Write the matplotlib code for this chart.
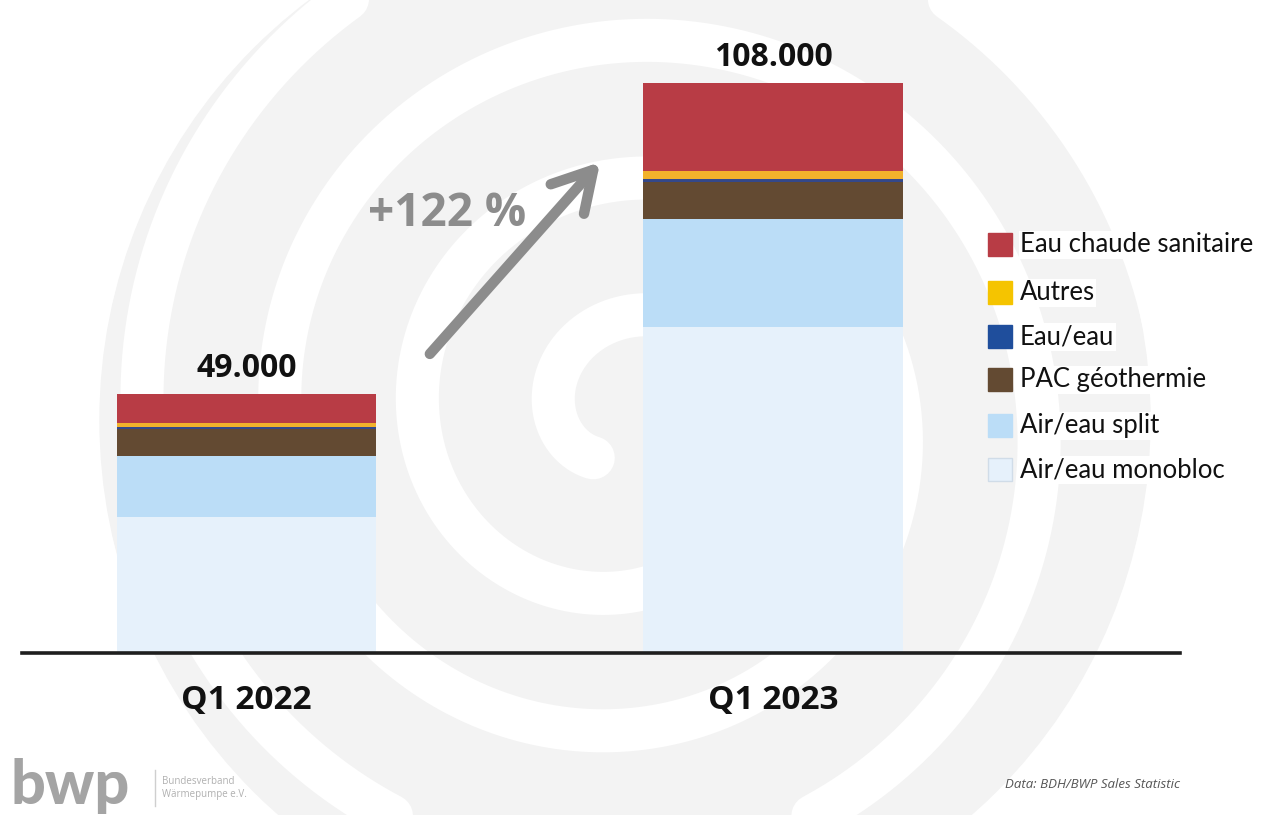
import numpy as np
import matplotlib.pyplot as plt
from matplotlib.patches import Circle, Rectangle

# heat pump sales, Germany, first quarter (units)
quarters = ["Q1 2022", "Q1 2023"]
series = ["Air/eau monobloc", "Air/eau split", "PAC géothermie",
          "Eau/eau", "Autres", "Eau chaude sanitaire"]
monobloc = [25800, 61850]
split = [11500, 20300]
geo = [5200, 7100]
eau_eau = [350, 600]
autres = [750, 1450]
ecs = [5400, 16700]
totals = [49000, 108000]
growth_label = "+122 %"

colors = ["#E6F1FB", "#BBDDF7", "#634A32", "#34488A", "#F2B22C", "#B83C45"]
legend_colors = ["#E6F1FB", "#BBDDF7", "#634A32", "#1F4E9C", "#F5C400", "#B83C45"]

W, H = 1273, 815
fig = plt.figure(figsize=(W / 100, H / 100), dpi=100)

# background spiral, drawn in pixel coordinates
bg = fig.add_axes([0, 0, 1, 1])
bg.set_xlim(0, W)
bg.set_ylim(H, 0)
bg.axis("off")
cx, cy = 625, 420
bg.add_patch(Circle((cx, cy), 525, color="#F3F3F3", zorder=0))
phi = np.radians(np.linspace(130, 1500, 3000))
r = 90 + (phi - np.radians(236)) * 138 / (2 * np.pi)
bg.plot(cx + r * np.cos(phi), cy + r * np.sin(phi),
        color="white", lw=31, solid_capstyle="round", zorder=1)

# main chart: baseline at y=653 px, 108.000 reaches y=83 px
px_per_unit = (653 - 83) / totals[1]
ax = fig.add_axes([0, 1 - 653 / H, 1, 653 / H])
ax.patch.set_alpha(0)
ax.axis("off")
ax.set_xlim(-246.5 / 526.5, (W - 246.5) / 526.5)
ax.set_ylim(0, 653 / px_per_unit)

x = np.arange(len(quarters))
bottom = np.zeros(len(quarters))
for name, vals, c in zip(series, [monobloc, split, geo, eau_eau, autres, ecs], colors):
    ax.bar(x, vals, width=0.492, bottom=bottom, color=c, zorder=3, label=name)
    bottom += np.array(vals)

ax.axhline(0, xmin=22 / W, xmax=1180 / W, color="#1E1E1E", lw=2.6, zorder=4,
           clip_on=False)

for i, t in enumerate(totals):
    ax.text(i, t + 17 / px_per_unit, f"{t:,}".replace(",", "."), ha="center",
            va="baseline", fontsize=23, fontweight="bold", family="Open Sans",
            color="#111111")
    ax.text(i, -47 / px_per_unit, quarters[i], ha="center", va="center",
            fontsize=24, fontweight="bold", family="Open Sans", color="#111111")

# growth arrow
bg.annotate("", xy=(602, 160), xytext=(428, 356),
            arrowprops=dict(arrowstyle="->,head_length=1.4,head_width=0.8",
                            mutation_scale=20, lw=7.5, color="#8C8C8C",
                            capstyle="round", joinstyle="round"), zorder=5)
bg.text(447, 213, growth_label, ha="center", va="center", fontsize=33,
        fontweight="bold", family="Open Sans", color="#8C8C8C", zorder=5)

# legend, top entry first
rows_y = [245, 293, 337, 380, 426, 470]
for yy, name, c in zip(rows_y, series[::-1], legend_colors[::-1]):
    bg.add_patch(Rectangle((988, yy - 12), 24, 23, facecolor=c,
                           edgecolor="#D0DCE8" if c.startswith("#E") else c,
                           lw=1, zorder=5))
    bg.text(1020, yy, name, ha="left", va="center", fontsize=18.5,
            family="Lato", color="#111111", zorder=5,
            bbox=dict(facecolor="white", edgecolor="none", pad=1))

# footer
bg.text(10, 786, "bwp", ha="left", va="center", fontsize=44, fontweight="black",
        family="Lato", color="#A4A4A4")
bg.plot([155, 155], [770, 806], color="#CFCFCF", lw=1)
bg.text(162, 781, "Bundesverband", fontsize=7, color="#B0B0B0", va="center",
        family="Open Sans")
bg.text(162, 795, "Wärmepumpe e.V.", fontsize=7, color="#B0B0B0", va="center",
        family="Open Sans")
bg.text(1180, 785, "Data: BDH/BWP Sales Statistic", ha="right", va="center",
        fontsize=9.5, style="italic", family="Open Sans", color="#555555")

fig.savefig("out.png", dpi=100)
